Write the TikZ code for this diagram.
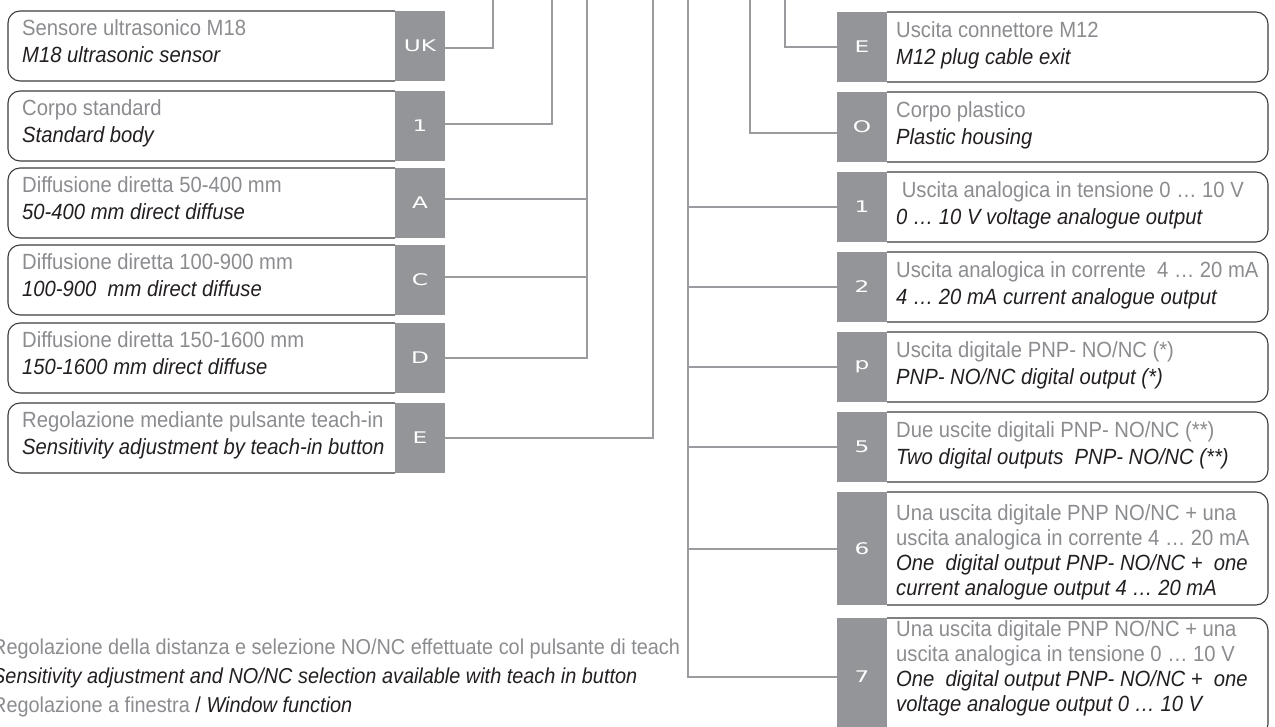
\documentclass[tikz,border=0pt]{standalone}
\usepackage{fontspec}
\setmainfont[FakeStretch=0.92]{Liberation Sans}
\newfontfamily\tagfont[FakeStretch=1.45]{DejaVu Sans}
\definecolor{tagc}{HTML}{939598}
\definecolor{itc}{HTML}{8A8C8F}
\definecolor{enc}{HTML}{231F20}
\definecolor{linec}{HTML}{9A9B9E}
\definecolor{boxc}{HTML}{3C3C3C}
\newcommand\itline[1]{\textcolor{itc}{#1}}
\newcommand\enline[1]{\textcolor{enc}{\itshape #1}}
\newcommand\topstrut{\rule{0pt}{18pt}}
\tikzset{
  tagbox/.style={fill=tagc, text=white, minimum width=50pt, minimum height=70pt,
    inner sep=0pt, font=\tagfont\fontsize{16}{16}\selectfont},
  outline/.style={draw=boxc, line width=1.1pt, rounded corners=12pt},
  conn/.style={draw=linec, line width=2pt},
  txt/.style={anchor=north west, inner sep=0pt, align=left, font=\fontsize{22}{27}\selectfont},
  txtfour/.style={txt, font=\fontsize{22}{25}\selectfont},
}
% left item: name, top, tag, italian, english
\newcommand\leftitem[5]{%
  \draw[outline] (395,#2) -- (8,#2) -- (8,#2+70) -- (395,#2+70);
  \node[tagbox] (t#1) at (420,#2+35) {#3};
  \node[txt] (x#1) at (22,#2+24-18) {\topstrut\itline{#4}\\\enline{#5}};
}
% right item: name, top, tag, italian, english
\newcommand\rightitem[5]{%
  \draw[outline] (887,#2) -- (1268,#2) -- (1268,#2+70) -- (887,#2+70);
  \node[tagbox] (r#1) at (862,#2+35) {#3};
  \node[txt] (y#1) at (896,#2+25-18) {\topstrut\itline{#4}\\\enline{#5}};
}
\begin{document}
\begin{tikzpicture}[x=1pt,y=-1pt]
\path[use as bounding box] (0,0) rectangle (1275,727);
\clip (0,0) rectangle (1275,727);

% left column
\leftitem{UK}{11}{UK}{Sensore ultrasonico M18}{M18 ultrasonic sensor}
\leftitem{1}{91}{1}{Corpo standard}{Standard body}
\leftitem{A}{168}{A}{Diffusione diretta 50-400 mm}{50-400 mm direct diffuse}
\leftitem{C}{245}{C}{Diffusione diretta 100-900 mm}{100-900\ \ mm direct diffuse}
\leftitem{D}{323}{D}{Diffusione diretta 150-1600 mm}{150-1600 mm direct diffuse}
\leftitem{E}{403}{E}{Regolazione mediante pulsante teach-in}{Sensitivity adjustment by teach-in button}

% right column
\rightitem{E}{12}{E}{Uscita connettore M12}{M12 plug cable exit}
\rightitem{O}{92}{O}{Corpo plastico}{Plastic housing}
\rightitem{1}{172}{1}{\ Uscita analogica in tensione 0 … 10 V}{0 … 10 V voltage analogue output}
\rightitem{2}{252}{2}{Uscita analogica in corrente\ \ 4 … 20 mA}{4 … 20 mA current analogue output}
\rightitem{p}{332}{p}{Uscita digitale PNP- NO/NC (*)}{PNP- NO/NC digital output (*)}
\rightitem{5}{412}{5}{Due uscite digitali PNP- NO/NC (**)}{Two digital outputs\ \ PNP- NO/NC (**)}

\draw[outline] (887,492) -- (1268,492) -- (1268,605) -- (887,605);
\node[tagbox, minimum height=113pt] (r6) at (862,548.5) {6};
\node[txtfour] (y6) at (896,520-18) {\topstrut\itline{Una uscita digitale PNP NO/NC + una}\\
  \itline{uscita analogica in corrente 4 … 20 mA}\\
  \enline{One\ \ digital output PNP- NO/NC +\ \ one}\\
  \enline{current analogue output 4 … 20 mA}};

\draw[outline] (887,618) -- (1268,618) -- (1268,736) -- (887,736);
\node[tagbox, minimum height=118pt] (r7) at (862,677) {7};
\node[txtfour] (y7) at (896,636-18) {\topstrut\itline{Una uscita digitale PNP NO/NC + una}\\
  \itline{uscita analogica in tensione 0 … 10 V}\\
  \enline{One\ \ digital output PNP- NO/NC +\ \ one}\\
  \enline{voltage analogue output 0 … 10 V}};

% connectors, left
\coordinate (vUK) at (493,0);
\coordinate (v1) at (552,0);
\coordinate (vACD) at (587,0);
\coordinate (vE) at (653,0);
\draw[conn] ([yshift=-2pt]tUK.east) -| (vUK);
\draw[conn] ([yshift=2pt]t1.east) -| (v1);
\draw[conn] ([yshift=4pt]tA.east) -| (vACD);
\draw[conn] ([yshift=3pt]tC.east) -| (vACD);
\draw[conn] (tD.east) -| (vACD);
\draw[conn] (tE.east) -| (vE);

% connectors, right
\coordinate (wOut) at (688,0);
\coordinate (wO) at (750,0);
\coordinate (wE) at (785,0);
\draw[conn] (wE) |- (rE.west);
\draw[conn] (wO) |- ([yshift=-6pt]rO.west);
\draw[conn] (wOut) |- (r1.west);
\draw[conn] (wOut) |- (r2.west);
\draw[conn] (wOut) |- (rp.west);
\draw[conn] (wOut) |- (r5.west);
\draw[conn] (wOut) |- (r6.west);
\draw[conn] (wOut) |- (r7.west);

% notes
\node[txt, font=\fontsize{21.6}{29}\selectfont] (note) at (-8,654-18) {\topstrut\itline{Regolazione della distanza e selezione NO/NC effettuate col pulsante di teach}\\
  \enline{Sensitivity adjustment and NO/NC selection available with teach in button}\\
  \itline{Regolazione a finestra} \textcolor{enc}{/ \itshape Window function}};
\end{tikzpicture}
\end{document}
